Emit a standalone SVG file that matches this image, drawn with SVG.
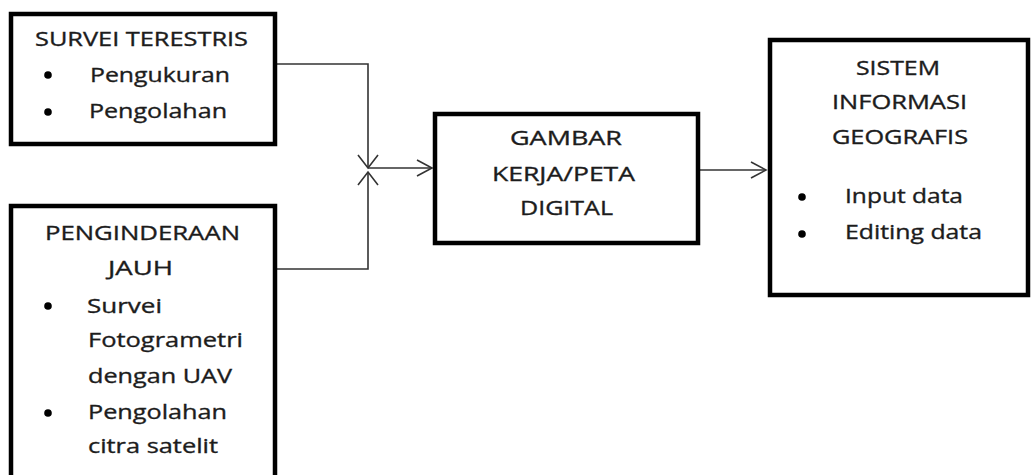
<svg xmlns="http://www.w3.org/2000/svg" width="1032" height="475" viewBox="0 0 1032 475">
<style>
.box{fill:#fff;stroke:#000;stroke-width:4.5}
.t{font-family:"Open Sans","Liberation Sans",sans-serif;font-size:20px;fill:#1c1c1c;stroke:#1c1c1c;stroke-width:0.35}
.b{fill:#000}
.c{fill:none;stroke:#333;stroke-width:1.6}
</style>
<defs>
<marker id="arr" markerUnits="userSpaceOnUse" markerWidth="20" markerHeight="20" refX="16" refY="9" orient="auto">
<path d="M1,1 L16,9 L1,17" fill="none" stroke="#333" stroke-width="1.6"/>
</marker>
<marker id="arrw" markerUnits="userSpaceOnUse" markerWidth="24" markerHeight="24" refX="14" refY="11" orient="auto">
<path d="M1,1 L14,11 L1,21" fill="none" stroke="#333" stroke-width="1.6"/>
</marker>
</defs>
<rect width="1032" height="475" fill="#fff"/>
<g id="connectors">
<path class="c" d="M277,64 H368 V168" marker-end="url(#arrw)"/>
<path class="c" d="M277,269 H368 V172" marker-end="url(#arrw)"/>
<path class="c" d="M368,168 H432" marker-end="url(#arr)"/>
<path class="c" d="M700,170 H766" marker-end="url(#arr)"/>
</g>
<g id="survei-terestris">
<rect class="box" x="11" y="14" width="264" height="130"/>
<text class="t" x="35" y="46" textLength="213" lengthAdjust="spacingAndGlyphs">SURVEI TERESTRIS</text>
<circle class="b" cx="48" cy="75" r="3.8"/>
<text class="t" x="90" y="82" textLength="140" lengthAdjust="spacingAndGlyphs">Pengukuran</text>
<circle class="b" cx="48" cy="112" r="3.8"/>
<text class="t" x="89" y="118" textLength="138" lengthAdjust="spacingAndGlyphs">Pengolahan</text>
</g>
<g id="penginderaan-jauh">
<rect class="box" x="11" y="206" width="264" height="280"/>
<text class="t" x="45" y="240" textLength="195" lengthAdjust="spacingAndGlyphs">PENGINDERAAN</text>
<text class="t" x="108" y="275" textLength="65" lengthAdjust="spacingAndGlyphs">JAUH</text>
<circle class="b" cx="48" cy="306" r="3.8"/>
<text class="t" x="87" y="313" textLength="75" lengthAdjust="spacingAndGlyphs">Survei</text>
<text class="t" x="88" y="347" textLength="155" lengthAdjust="spacingAndGlyphs">Fotogrametri</text>
<text class="t" x="88" y="383" textLength="144" lengthAdjust="spacingAndGlyphs">dengan UAV</text>
<circle class="b" cx="48" cy="413" r="3.8"/>
<text class="t" x="88" y="419" textLength="139" lengthAdjust="spacingAndGlyphs">Pengolahan</text>
<text class="t" x="88" y="453" textLength="130" lengthAdjust="spacingAndGlyphs">citra satelit</text>
</g>
<g id="gambar-kerja">
<rect class="box" x="435" y="114" width="263" height="129"/>
<text class="t" x="510" y="145" textLength="112" lengthAdjust="spacingAndGlyphs">GAMBAR</text>
<text class="t" x="492" y="181" textLength="143" lengthAdjust="spacingAndGlyphs">KERJA/PETA</text>
<text class="t" x="520" y="215" textLength="93" lengthAdjust="spacingAndGlyphs">DIGITAL</text>
</g>
<g id="sig">
<rect class="box" x="770" y="40" width="258" height="255"/>
<text class="t" x="856" y="75" textLength="84" lengthAdjust="spacingAndGlyphs">SISTEM</text>
<text class="t" x="832" y="109" textLength="135" lengthAdjust="spacingAndGlyphs">INFORMASI</text>
<text class="t" x="832" y="144" textLength="136" lengthAdjust="spacingAndGlyphs">GEOGRAFIS</text>
<circle class="b" cx="802" cy="197" r="3.8"/>
<text class="t" x="845" y="203" textLength="118" lengthAdjust="spacingAndGlyphs">Input data</text>
<circle class="b" cx="802" cy="234" r="3.8"/>
<text class="t" x="845" y="239" textLength="137" lengthAdjust="spacingAndGlyphs">Editing data</text>
</g>
</svg>
